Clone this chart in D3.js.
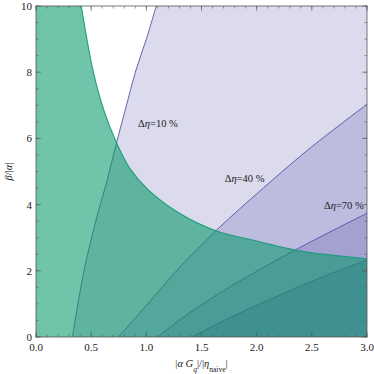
<!DOCTYPE html>
<html>
<head>
<meta charset="utf-8">
<script src="https://cdn.jsdelivr.net/npm/d3@7"></script>
<style>
  body { margin: 0; background: #fff; }
  svg text { font-family: "Liberation Serif", "DejaVu Serif", serif; fill: #222; }
</style>
</head>
<body>
<div id="chart"></div>
<script>
// ---- data (x = |alpha Gq|/|eta naive|, y = beta/|alpha|) ----
const xTicks = [0, 0.5, 1.0, 1.5, 2.0, 2.5, 3.0];
const yTicks = [0, 2, 4, 6, 8, 10];

// green boundary (upper edge of green region)
const boundary = [[0.41, 10], [0.52, 8], [0.62, 6.8], [0.73, 5.87], [0.85, 5.1], [1.02, 4.44],
  [1.3, 3.74], [1.63, 3.21], [2.0, 2.9], [2.35, 2.63], [2.66, 2.48], [3.0, 2.36]];

// contour lines of delta eta
const c10 = [[0.33, 0], [0.435, 2], [0.55, 3.6], [0.645, 4.74], [0.73, 5.87], [0.82, 7], [0.9, 8], [1.0, 9], [1.09, 10]];
const c40 = [[0.745, 0], [1.0, 0.95], [1.3, 2.1], [1.63, 3.21], [2.06, 4.5], [2.5, 5.75], [3.0, 7.03]];
const c70 = [[1.10, 0], [1.4, 0.75], [1.8, 1.6], [2.35, 2.63], [3.0, 3.74]];
const c100 = [[1.41, 0], [1.8, 0.65], [2.21, 1.27], [2.6, 1.82], [3.0, 2.33]];
const contours = [c10, c40, c70, c100];

const labels = [
  {value: "10", x: 1.105, y: 6.35},
  {value: "40", x: 1.89, y: 4.68},
  {value: "70", x: 2.79, y: 3.87}
];

const purpleFills = ["#dcdbed", "#bdbbde", "#a4a0d2", "#8e89c7"];
const greenFills = ["#6fc4a9", "#5fb4a0", "#54a79b", "#4a9c96", "#3f918f"];

// ---- layout ----
const W = 374, H = 374;
const margin = {top: 6, right: 7, bottom: 37, left: 36};
const iw = W - margin.left - margin.right;
const ih = H - margin.top - margin.bottom;

const svg = d3.select('#chart').append('svg')
  .attr('width', W)
  .attr('height', H);

const defs = svg.append('defs');
const g = svg.append('g').attr('transform', `translate(${margin.left},${margin.top})`);

const x = d3.scaleLinear().domain([0, 3]).range([0, iw]);
const y = d3.scaleLinear().domain([0, 10]).range([ih, 0]);

const curveLine = d3.line().x(d => x(d[0])).y(d => y(d[1])).curve(d3.curveCatmullRom);

// region to the right/below a contour line
function regionPath(pts) {
  const last = pts[pts.length - 1];
  return curveLine(pts) + `L${x(3)},${y(last[1])}L${x(3)},${y(0)}Z`;
}

defs.append('clipPath').attr('id', 'plotClip')
  .append('rect').attr('width', iw).attr('height', ih);

defs.append('clipPath').attr('id', 'greenClip')
  .append('path')
  .attr('d', curveLine(boundary) + `L${x(3)},${y(0)}L${x(0)},${y(0)}L${x(0)},${y(10)}Z`);

const plot = g.append('g').attr('clip-path', 'url(#plotClip)');

// purple contour fills
plot.append('rect').attr('width', iw).attr('height', ih).attr('fill', '#fff');
plot.selectAll('.pfill').data(contours).join('path')
  .attr('class', 'pfill')
  .attr('d', regionPath)
  .attr('fill', (d, i) => purpleFills[i]);
plot.selectAll('.pline').data(contours).join('path')
  .attr('class', 'pline')
  .attr('d', curveLine)
  .attr('fill', 'none')
  .attr('stroke', '#5652a8')
  .attr('stroke-width', 0.9);

// green region
const green = plot.append('g').attr('clip-path', 'url(#greenClip)');
green.append('rect').attr('width', iw).attr('height', ih).attr('fill', greenFills[0]);
green.selectAll('.gfill').data(contours).join('path')
  .attr('class', 'gfill')
  .attr('d', regionPath)
  .attr('fill', (d, i) => greenFills[i + 1]);
green.selectAll('.gline').data(contours).join('path')
  .attr('class', 'gline')
  .attr('d', curveLine)
  .attr('fill', 'none')
  .attr('stroke', '#2c7c7a')
  .attr('stroke-width', 0.9);

plot.append('path')
  .attr('d', curveLine(boundary))
  .attr('fill', 'none')
  .attr('stroke', '#1c9e7c')
  .attr('stroke-width', 1.1);

// contour labels
const lab = g.selectAll('.clabel').data(labels).join('text')
  .attr('class', 'clabel')
  .attr('x', d => x(d.x))
  .attr('y', d => y(d.y))
  .attr('text-anchor', 'middle')
  .style('font-size', '10.5px');
lab.append('tspan').text('Δ');
lab.append('tspan').style('font-style', 'italic').text('η');
lab.append('tspan').text(d => `=${d.value} %`);

// frame + ticks (inside, all four sides)
g.append('rect').attr('width', iw).attr('height', ih)
  .attr('fill', 'none').attr('stroke', '#555').attr('stroke-width', 0.8);

const xMinor = d3.range(0, 31).map(i => i / 10);
const yMinor = d3.range(0, 21).map(i => i / 2);
const tickStroke = '#555';

function ticks(vals, scale, len, horiz) {
  vals.forEach(v => {
    const p = scale(v);
    if (horiz) {
      g.append('line').attr('x1', p).attr('x2', p).attr('y1', ih).attr('y2', ih - len).attr('stroke', tickStroke).attr('stroke-width', 0.6);
      g.append('line').attr('x1', p).attr('x2', p).attr('y1', 0).attr('y2', len).attr('stroke', tickStroke).attr('stroke-width', 0.6);
    } else {
      g.append('line').attr('y1', p).attr('y2', p).attr('x1', 0).attr('x2', len).attr('stroke', tickStroke).attr('stroke-width', 0.6);
      g.append('line').attr('y1', p).attr('y2', p).attr('x1', iw).attr('x2', iw - len).attr('stroke', tickStroke).attr('stroke-width', 0.6);
    }
  });
}
ticks(xMinor, x, 2.5, true);
ticks(xTicks, x, 5, true);
ticks(yMinor, y, 2.5, false);
ticks(yTicks, y, 5, false);

g.selectAll('.xtl').data(xTicks).join('text')
  .attr('x', d => x(d)).attr('y', ih + 14)
  .attr('text-anchor', 'middle')
  .style('font-size', '11px')
  .text(d => d.toFixed(1));
g.selectAll('.ytl').data(yTicks).join('text')
  .attr('x', -4).attr('y', d => y(d) + 4)
  .attr('text-anchor', 'end')
  .style('font-size', '11px')
  .text(d => d);

// axis titles
const xt = g.append('text')
  .attr('x', iw / 2).attr('y', ih + 30)
  .attr('text-anchor', 'middle')
  .style('font-size', '10.5px');
xt.append('tspan').text('|');
xt.append('tspan').style('font-style', 'italic').text('α G');
xt.append('tspan').attr('baseline-shift', 'sub').style('font-size', '7.5px').style('font-style', 'italic').text('q');
xt.append('tspan').text('|/|');
xt.append('tspan').style('font-style', 'italic').text('η');
xt.append('tspan').attr('baseline-shift', 'sub').style('font-size', '7.5px').text('naive');
xt.append('tspan').text('|');

const yt = g.append('text')
  .attr('transform', `translate(${-24},${ih / 2}) rotate(-90)`)
  .attr('text-anchor', 'middle')
  .style('font-size', '10.5px');
yt.append('tspan').style('font-style', 'italic').text('β');
yt.append('tspan').text('/|');
yt.append('tspan').style('font-style', 'italic').text('α');
yt.append('tspan').text('|');
</script>
</body>
</html>
